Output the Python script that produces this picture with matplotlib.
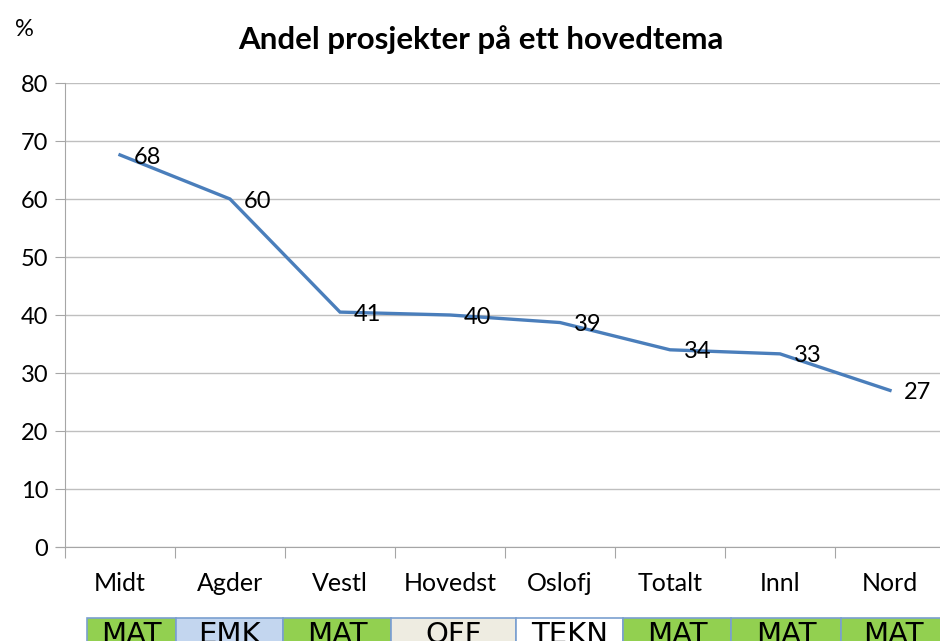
import matplotlib
matplotlib.use("Agg")
import matplotlib.pyplot as plt
from matplotlib.patches import Rectangle

regions = ["Midt", "Agder", "Vestl", "Hovedst", "Oslofj", "Totalt", "Innl", "Nord"]
andel = [67.6, 60.0, 40.5, 40.0, 38.7, 34.0, 33.3, 27.0]
labels = ["68", "60", "41", "40", "39", "34", "33", "27"]
tema = ["MAT", "EMK", "MAT", "OFF", "TEKN", "MAT", "MAT", "MAT"]
tema_col = {"MAT": "#92d050", "EMK": "#c3d6ef", "OFF": "#eeece1", "TEKN": "#ffffff"}

plt.rcParams['font.family'] = ['Lato', 'DejaVu Sans']
W, H = 940, 641
fig = plt.figure(figsize=(W/100, H/100), dpi=100)
def fx(px): return px / W
def fy(py): return 1 - py / H

ax = fig.add_axes([fx(65), fy(547), fx(945) - fx(65), fy(83) - fy(547)])
x = list(range(len(regions)))
ax.plot(x, andel, color="#4a7ebb", lw=2.4, solid_joinstyle="miter", zorder=3)
for xi, v, t in zip(x, andel, labels):
    ax.annotate(t, (xi, v), xytext=(10, -1.5), textcoords="offset points",
                ha="left", va="center", fontsize=17, zorder=4)

ax.set_xlim(-0.5, len(regions) - 0.5)
ax.set_ylim(0, 80)
ax.set_yticks(range(0, 81, 10))
ax.grid(axis="y", color="#bfbfbf", lw=1)
ax.set_axisbelow(True)
for s in ["top", "right"]:
    ax.spines[s].set_visible(False)
for s in ["left", "bottom"]:
    ax.spines[s].set_color("#a6a6a6")
ax.spines["bottom"].set_bounds(-0.5 - 0.08, len(regions) - 0.5)
ax.tick_params(axis="y", length=7, color="#a6a6a6", labelsize=17, pad=5)
ax.set_xticks([i - 0.5 for i in range(len(regions) + 1)])
ax.set_xticklabels([])
ax.tick_params(axis="x", length=8, color="#a6a6a6")
for xi, r in zip(x, regions):
    ax.text(xi, -6.3, r, ha="center", va="center", fontsize=18)

fig.text(fx(481), fy(40), "Andel prosjekter på ett hovedtema", ha="center", va="center",
         fontsize=22.5, fontweight="bold")
fig.text(fx(24), fy(30), "%", ha="center", va="center", fontsize=17)

# theme table below the chart
edges = [87, 176, 283, 391, 516, 623, 731, 841, 945]
for i, t in enumerate(tema):
    x0, x1 = edges[i], edges[i + 1]
    fig.patches.append(Rectangle((fx(x0), fy(660)), fx(x1) - fx(x0), fy(618) - fy(660),
                                 transform=fig.transFigure, fc=tema_col[t], ec="#7a9fd0",
                                 lw=1.2))
    fig.text(fx((x0 + x1) / 2), fy(621), t, ha="center", va="top", fontsize=21,
             family=['Liberation Sans Narrow', 'DejaVu Sans'])

fig.savefig("out.png", dpi=100, facecolor="white")
